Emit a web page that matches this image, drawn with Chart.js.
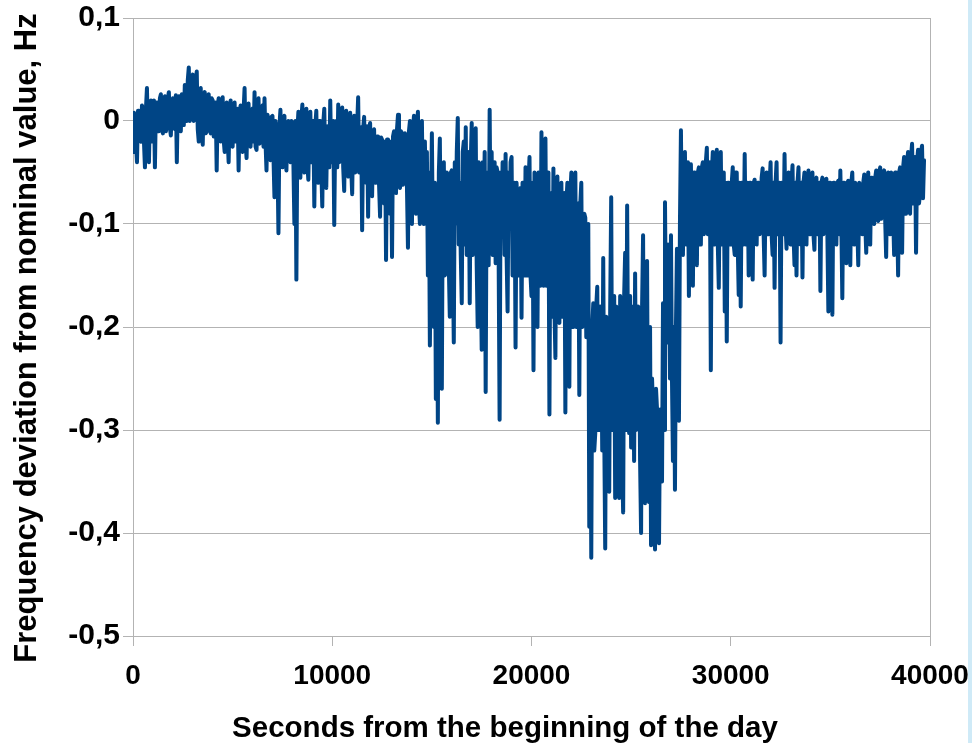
<!DOCTYPE html>
<html>
<head>
<meta charset="utf-8">
<script src="https://cdn.jsdelivr.net/npm/chart.js@4.4.1/dist/chart.umd.min.js"></script>
<style>
  html, body { margin: 0; padding: 0; background: #ffffff; }
  #wrap { position: relative; width: 972px; height: 743px; overflow: hidden; }
  #c { position: absolute; left: 0; top: 0; }
  #strip { position: absolute; left: 968px; top: 0; width: 4px; height: 743px; background: #cfeaf7; }
</style>
</head>
<body>
<div id="wrap">
  <canvas id="c" width="972" height="743"></canvas>
  <div id="strip"></div>
</div>
<script>
// ---- Data, one sample every 50 s ----
const sampleStepSeconds = 50;
const deviationHz = [
  -0.03, 0.008, 0.005, -0.02, -0.04, 0.01, 0.01, -0.018, -0.02, 0.015, 0.012, -0.02, -0.045, 0.012, 0.032, -0.015, -0.04, 0.01, 0.02, -0.02,
  -0.01, 0.02, -0.045, 0.015, 0.018, -0.01, -0.01, 0.022, 0.026, -0.008, -0.012, 0.02, 0.024, -0.01, -0.005, 0.022, 0.028, -0.006, -0.014, 0.02,
  0.022, -0.005, -0.008, 0.025, -0.04, 0.02, 0.024, -0.006, -0.01, 0.026, 0.02, -0.004, 0.035, 0.005, 0.0, 0.04, 0.052, 0.0, 0.01, 0.042,
  0.045, 0.0, 0.002, 0.04, 0.048, -0.008, -0.02, 0.028, 0.032, -0.01, -0.023, 0.025, 0.028, -0.012, -0.01, 0.024, 0.026, -0.008, -0.012, 0.022,
  0.02, -0.015, -0.01, 0.018, -0.048, 0.015, 0.022, -0.012, -0.02, 0.016, 0.023, -0.018, -0.03, 0.014, 0.018, -0.016, -0.04, 0.012, 0.02, -0.018,
  -0.025, 0.01, 0.018, -0.02, -0.02, 0.012, -0.048, 0.008, 0.015, -0.022, -0.03, 0.01, 0.032, -0.02, -0.036, 0.012, 0.017, -0.018, -0.025, 0.01,
  0.012, -0.02, 0.028, -0.025, -0.028, 0.01, 0.022, -0.022, -0.02, 0.012, 0.015, -0.025, 0.022, -0.02, -0.048, 0.006, 0.0, -0.03, -0.038, 0.004,
  0.005, -0.035, -0.074, 0.0, -0.01, -0.035, -0.109, -0.005, 0.011, -0.035, -0.045, 0.002, 0.005, -0.035, -0.048, -0.002, 0.0, -0.038, -0.04, 0.0,
  -0.002, -0.04, -0.1, 0.0, -0.154, -0.01, 0.009, -0.04, -0.055, 0.002, 0.016, -0.038, -0.05, 0.0, 0.012, -0.042, -0.057, -0.002, 0.009, -0.04,
  -0.03, 0.0, -0.083, -0.005, 0.01, -0.045, -0.06, 0.0, 0.0, -0.045, -0.083, -0.002, 0.012, -0.045, -0.065, -0.005, -0.01, -0.045, 0.02, -0.04,
  -0.04, 0.0, -0.101, -0.01, 0.0, -0.045, 0.016, -0.04, -0.03, 0.002, 0.013, -0.045, -0.068, -0.002, 0.01, -0.045, -0.054, 0.0, 0.008, -0.045,
  -0.071, -0.005, 0.005, -0.05, -0.03, -0.004, 0.023, -0.05, -0.05, -0.006, -0.106, -0.008, 0.004, -0.05, -0.06, -0.005, -0.093, -0.01, -0.002, -0.055,
  -0.073, -0.012, -0.008, -0.06, -0.06, -0.015, -0.015, -0.062, -0.093, -0.016, -0.018, -0.06, -0.08, -0.02, -0.135, -0.018, -0.018, -0.065, -0.09, -0.02,
  -0.132, -0.015, -0.01, -0.06, -0.07, -0.008, 0.006, -0.06, -0.065, -0.01, -0.012, -0.062, -0.05, -0.012, -0.02, -0.065, -0.123, -0.01, 0.0, -0.07,
  -0.1, -0.01, 0.005, -0.08, -0.09, -0.005, 0.009, -0.08, -0.1, -0.01, 0.0, -0.085, -0.1, -0.02, -0.09, -0.03, -0.15, -0.05, -0.218, -0.1,
  -0.012, -0.12, -0.2, -0.06, -0.27, -0.1, -0.293, -0.05, -0.017, -0.14, -0.26, -0.05, -0.04, -0.15, -0.148, -0.05, -0.06, -0.14, -0.19, -0.05,
  -0.048, -0.13, -0.215, -0.04, -0.1, -0.03, 0.003, -0.12, -0.06, -0.13, -0.177, -0.03, -0.02, -0.12, -0.006, -0.13, -0.12, -0.03, -0.177, -0.04,
  -0.002, -0.13, -0.1, -0.03, -0.007, -0.14, -0.2, -0.04, -0.05, -0.14, -0.222, -0.04, -0.1, -0.03, -0.263, -0.05, -0.06, -0.14, 0.011, -0.12,
  -0.03, -0.13, -0.09, -0.04, -0.138, -0.045, -0.05, -0.13, -0.29, -0.05, -0.1, -0.04, -0.06, -0.13, -0.032, -0.13, -0.185, -0.05, -0.1, -0.04,
  -0.035, -0.15, -0.15, -0.06, -0.22, -0.06, -0.087, -0.15, -0.15, -0.065, -0.191, -0.06, -0.06, -0.15, -0.045, -0.15, -0.15, -0.06, -0.035, -0.15,
  -0.17, -0.06, -0.242, -0.05, -0.06, -0.16, -0.2, -0.05, -0.08, -0.16, -0.011, -0.15, -0.16, -0.05, -0.017, -0.16, -0.157, -0.05, -0.285, -0.07,
  -0.1, -0.19, -0.046, -0.18, -0.23, -0.07, -0.054, -0.19, -0.196, -0.07, -0.06, -0.19, -0.15, -0.07, -0.283, -0.08, -0.06, -0.19, -0.258, -0.07,
  -0.05, -0.2, -0.2, -0.08, -0.05, -0.2, -0.15, -0.08, -0.266, -0.08, -0.06, -0.2, -0.19, -0.09, -0.094, -0.21, -0.21, -0.1, -0.394, -0.2,
  -0.424, -0.2, -0.177, -0.32, -0.303, -0.18, -0.161, -0.3, -0.3, -0.18, -0.2, -0.32, -0.133, -0.3, -0.415, -0.19, -0.2, -0.33, -0.36, -0.18,
  -0.074, -0.3, -0.274, -0.17, -0.366, -0.18, -0.2, -0.33, -0.366, -0.17, -0.187, -0.33, -0.38, -0.17, -0.128, -0.3, -0.082, -0.25, -0.303, -0.17,
  -0.317, -0.18, -0.2, -0.33, -0.148, -0.3, -0.284, -0.18, -0.2, -0.33, -0.4, -0.18, -0.111, -0.3, -0.371, -0.18, -0.136, -0.33, -0.37, -0.2,
  -0.412, -0.25, -0.28, -0.38, -0.416, -0.26, -0.28, -0.4, -0.41, -0.28, -0.28, -0.35, -0.177, -0.3, -0.079, -0.2, -0.215, -0.12, -0.15, -0.25,
  -0.111, -0.25, -0.33, -0.2, -0.358, -0.2, -0.124, -0.28, -0.291, -0.1, -0.009, -0.12, -0.13, -0.04, -0.03, -0.12, -0.12, -0.04, -0.17, -0.05,
  -0.042, -0.12, -0.16, -0.05, -0.05, -0.12, -0.14, -0.05, -0.045, -0.12, -0.12, -0.045, -0.04, -0.11, -0.1, -0.04, -0.026, -0.11, -0.08, -0.04,
  -0.242, -0.05, -0.03, -0.12, -0.12, -0.04, -0.028, -0.12, -0.162, -0.05, -0.03, -0.12, -0.12, -0.05, -0.185, -0.06, -0.214, -0.06, -0.06, -0.12,
  -0.12, -0.06, -0.045, -0.12, -0.13, -0.05, -0.05, -0.12, -0.169, -0.06, -0.18, -0.06, -0.06, -0.12, -0.032, -0.12, -0.12, -0.06, -0.15, -0.06,
  -0.06, -0.11, -0.154, -0.06, -0.057, -0.11, -0.12, -0.06, -0.06, -0.11, -0.1, -0.055, -0.046, -0.11, -0.15, -0.06, -0.05, -0.11, -0.11, -0.06,
  -0.04, -0.11, -0.13, -0.06, -0.162, -0.06, -0.04, -0.11, -0.1, -0.06, -0.215, -0.06, -0.08, -0.11, -0.032, -0.1, -0.124, -0.06, -0.05, -0.11,
  -0.12, -0.06, -0.043, -0.11, -0.14, -0.06, -0.15, -0.06, -0.045, -0.11, -0.12, -0.06, -0.152, -0.06, -0.05, -0.11, -0.12, -0.06, -0.048, -0.11,
  -0.11, -0.06, -0.05, -0.11, -0.125, -0.06, -0.055, -0.11, -0.1, -0.06, -0.165, -0.06, -0.055, -0.11, -0.1, -0.06, -0.056, -0.11, -0.185, -0.06,
  -0.06, -0.11, -0.188, -0.06, -0.06, -0.11, -0.12, -0.06, -0.058, -0.11, -0.048, -0.1, -0.172, -0.06, -0.06, -0.11, -0.138, -0.06, -0.058, -0.11,
  -0.14, -0.06, -0.05, -0.1, -0.12, -0.06, -0.065, -0.1, -0.14, -0.06, -0.065, -0.1, -0.11, -0.06, -0.052, -0.1, -0.128, -0.06, -0.05, -0.1,
  -0.12, -0.055, -0.055, -0.095, -0.1, -0.055, -0.048, -0.095, -0.097, -0.05, -0.045, -0.095, -0.09, -0.05, -0.048, -0.095, -0.132, -0.055, -0.05, -0.095,
  -0.11, -0.05, -0.055, -0.09, -0.13, -0.05, -0.05, -0.09, -0.15, -0.05, -0.045, -0.09, -0.128, -0.045, -0.035, -0.09, -0.09, -0.04, -0.03, -0.085,
  -0.09, -0.035, -0.022, -0.08, -0.06, -0.035, -0.128, -0.04, -0.028, -0.08, -0.07, -0.03, -0.024, -0.075, -0.038
];
const secondsOfDay = deviationHz.map((_, i) => i * sampleStepSeconds);

const xTickValues = [0, 10000, 20000, 30000, 40000];
const xTickLabels = ['0', '10000', '20000', '30000', '40000'];
const yTickValues = [0.1, 0, -0.1, -0.2, -0.3, -0.4, -0.5];
const yTickLabels = ['0,1', '0', '-0,1', '-0,2', '-0,3', '-0,4', '-0,5'];

const xTitle = 'Seconds from the beginning of the day';
const yTitle = 'Frequency deviation from nominal value, Hz';

// ---- Chart ----
const FONT = "'Liberation Sans', Arial, sans-serif";
const GRID = '#b3b3b3';

const titlesPlugin = {
  id: 'axisTitles',
  afterDraw(chart) {
    const c = chart.ctx;
    c.save();
    c.fillStyle = '#000';
    c.font = 'bold 29.5px ' + FONT;
    c.textAlign = 'center';
    c.textBaseline = 'alphabetic';
    c.fillText(xTitle, 505, 737);
    c.translate(36, 338);
    c.rotate(-Math.PI / 2);
    c.font = 'bold 31px ' + FONT;
    c.fillText(yTitle, 0, 0);
    c.restore();
  }
};

new Chart(document.getElementById('c'), {
  type: 'line',
  data: {
    datasets: [{
      data: secondsOfDay.map((s, i) => ({ x: s, y: deviationHz[i] })),
      borderColor: '#004586',
      borderWidth: 4,
      pointRadius: 0,
      tension: 0,
      fill: false,
      borderJoinStyle: 'round',
      borderCapStyle: 'round'
    }]
  },
  options: {
    responsive: false,
    animation: false,
    devicePixelRatio: 1,
    layout: { padding: { top: 18, right: 42, left: 0, bottom: 0 } },
    plugins: { legend: { display: false }, tooltip: { enabled: false } },
    scales: {
      x: {
        type: 'linear',
        min: 0,
        max: 40000,
        afterBuildTicks: s => { s.ticks = xTickValues.map(v => ({ value: v })); },
        afterFit: s => { s.height = 107; s.paddingLeft = 0; s.paddingRight = 0; },
        ticks: {
          callback: (v, i) => xTickLabels[i],
          color: '#000',
          font: { family: FONT, size: 28, weight: 'bold' },
          maxRotation: 0,
          autoSkip: false,
          padding: 13
        },
        grid: {
          color: ctx => (ctx.tick && ctx.tick.value === 40000) ? GRID : 'rgba(0,0,0,0)',
          tickColor: GRID,
          tickLength: 10,
          lineWidth: 1
        },
        border: { color: GRID, width: 1 }
      },
      y: {
        min: -0.5,
        max: 0.1,
        afterBuildTicks: s => { s.ticks = yTickValues.map(v => ({ value: v })); },
        afterFit: s => { s.width = 133; s.paddingTop = 0; s.paddingBottom = 0; },
        ticks: {
          callback: (v, i) => yTickLabels[i],
          color: '#000',
          font: { family: FONT, size: 30, weight: 'bold' },
          padding: 3,
          autoSkip: false
        },
        grid: {
          color: GRID,
          tickColor: GRID,
          tickLength: 10,
          lineWidth: 1
        },
        border: { color: GRID, width: 1 }
      }
    }
  },
  plugins: [titlesPlugin]
});
</script>
</body>
</html>
